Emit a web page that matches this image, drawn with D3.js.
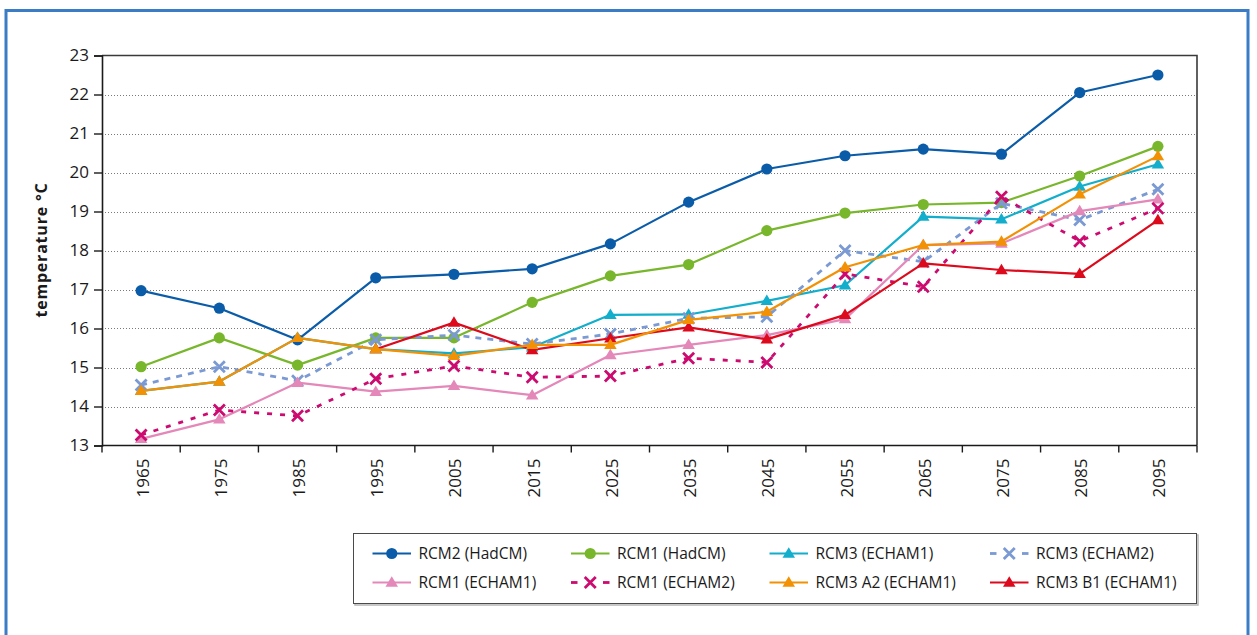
<!DOCTYPE html>
<html>
<head>
<meta charset="utf-8">
<script src="https://cdn.jsdelivr.net/npm/d3@7/dist/d3.min.js"></script>
<style>
  html, body { margin: 0; padding: 0; background: #fff; }
  svg { display: block; }
  text { font-family: "Open Sans", "Noto Sans", sans-serif; fill: #1a1a1a; }
</style>
</head>
<body>
<svg id="chart" width="1257" height="635"></svg>
<script>
// Decades on the x axis
const years = ["1965", "1975", "1985", "1995", "2005", "2015", "2025",
               "2035", "2045", "2055", "2065", "2075", "2085", "2095"];

// y axis ticks (°C)
const yTicks = [13, 14, 15, 16, 17, 18, 19, 20, 21, 22, 23];

// Modelled mean temperature per decade, one array per model run
const rcm2HadCM   = [16.97, 16.52, 15.71, 17.30, 17.39, 17.53, 18.17, 19.24, 20.09, 20.43, 20.60, 20.47, 22.05, 22.50];
const rcm1HadCM   = [15.02, 15.76, 15.06, 15.76, 15.76, 16.67, 17.35, 17.64, 18.51, 18.96, 19.18, 19.23, 19.91, 20.67];
const rcm3Echam1  = [14.40, 14.64, 15.76, 15.47, 15.36, 15.52, 16.35, 16.36, 16.71, 17.11, 18.87, 18.80, 19.64, 20.21];
const rcm3Echam2  = [14.55, 15.02, 14.66, 15.71, 15.83, 15.60, 15.86, 16.26, 16.30, 18.00, 17.71, 19.21, 18.78, 19.57];
const rcm1Echam1  = [13.17, 13.67, 14.61, 14.38, 14.53, 14.29, 15.32, 15.58, 15.83, 16.24, 18.14, 18.18, 19.01, 19.31];
const rcm1Echam2  = [13.27, 13.91, 13.76, 14.71, 15.04, 14.75, 14.78, 15.24, 15.13, 17.40, 17.07, 19.38, 18.24, 19.08];
const rcm3A2Echam1 = [14.40, 14.64, 15.76, 15.47, 15.30, 15.58, 15.58, 16.22, 16.43, 17.57, 18.14, 18.23, 19.44, 20.42];
const rcm3B1Echam1 = [null, null, null, 15.47, 16.15, 15.45, 15.75, 16.03, 15.72, 16.35, 17.67, 17.50, 17.40, 18.78];

// Series definitions (legend order) with their drawing style
const series = [
  { name: "RCM2 (HadCM)",       values: rcm2HadCM,    color: "#0b5ca8", marker: "circle",   dash: null,  width: 2.2, legendCol: 0, legendRow: 0, z: 0 },
  { name: "RCM1 (HadCM)",       values: rcm1HadCM,    color: "#78b62c", marker: "circle",   dash: null,  width: 2.2, legendCol: 1, legendRow: 0, z: 1 },
  { name: "RCM3 (ECHAM1)",      values: rcm3Echam1,   color: "#12aecb", marker: "triangle", dash: null,  width: 2.2, legendCol: 2, legendRow: 0, z: 2 },
  { name: "RCM3 (ECHAM2)",      values: rcm3Echam2,   color: "#7b9ad3", marker: "cross",    dash: "6,6", width: 2.8, legendCol: 3, legendRow: 0, z: 3 },
  { name: "RCM1 (ECHAM1)",      values: rcm1Echam1,   color: "#e487b9", marker: "triangle", dash: null,  width: 2.2, legendCol: 0, legendRow: 1, z: 4 },
  { name: "RCM1 (ECHAM2)",      values: rcm1Echam2,   color: "#cc0a6f", marker: "cross",    dash: "5,8", width: 2.8, legendCol: 1, legendRow: 1, z: 5 },
  { name: "RCM3 A2 (ECHAM1)",   values: rcm3A2Echam1, color: "#f29104", marker: "triangle", dash: null,  width: 2.2, legendCol: 2, legendRow: 1, z: 7 },
  { name: "RCM3 B1 (ECHAM1)",   values: rcm3B1Echam1, color: "#dc0a1c", marker: "triangle", dash: null,  width: 2.2, legendCol: 3, legendRow: 1, z: 6 }
];

const svg = d3.select("#chart");

// Outer blue frame
svg.append("rect")
  .attr("x", 6).attr("y", 10.5)
  .attr("width", 1242).attr("height", 640)
  .attr("fill", "none")
  .attr("stroke", "#3b7cc6")
  .attr("stroke-width", 3);

const plot = { left: 102, top: 55.5, right: 1197, bottom: 445.5 };

const x = d3.scaleBand()
  .domain(years)
  .range([plot.left, plot.right]);

const y = d3.scaleLinear()
  .domain([13, 23])
  .range([plot.bottom, plot.top]);

const cx = d => x(d) + x.bandwidth() / 2;

// Dotted horizontal gridlines
svg.append("g")
  .selectAll("line")
  .data(yTicks.filter(t => t > 13 && t < 23))
  .join("line")
  .attr("x1", plot.left).attr("x2", plot.right)
  .attr("y1", d => Math.round(y(d)) + 0.5).attr("y2", d => Math.round(y(d)) + 0.5)
  .attr("stroke", "#7a7a7a")
  .attr("stroke-width", 1)
  .attr("stroke-dasharray", "1,2");

// Plot area box (top and right edges)
svg.append("path")
  .attr("d", `M${plot.left},${plot.top}H${plot.right}V${plot.bottom}`)
  .attr("fill", "none")
  .attr("stroke", "#3a3a3a")
  .attr("stroke-width", 1.6);

// Y axis
const yAxis = svg.append("g")
  .attr("transform", `translate(${plot.left},0)`)
  .call(d3.axisLeft(y).tickValues(yTicks).tickSize(8).tickPadding(5).tickFormat(d3.format("d")));
yAxis.select(".domain").attr("stroke", "#1a1a1a").attr("stroke-width", 1.6);
yAxis.selectAll(".tick line").attr("stroke", "#1a1a1a").attr("stroke-width", 1.4);
yAxis.selectAll(".tick text").attr("font-size", 17).attr("fill", "#1a1a1a")
  .style("font-family", "'Open Sans', 'Noto Sans', sans-serif");

// X axis: ticks at category boundaries, labels rotated
const xAxis = svg.append("g")
  .attr("transform", `translate(0,${plot.bottom})`);
xAxis.append("line")
  .attr("x1", plot.left).attr("x2", plot.right)
  .attr("y1", 0).attr("y2", 0)
  .attr("stroke", "#1a1a1a").attr("stroke-width", 1.6);
const boundaries = years.map(d => x(d)).concat([plot.right]);
xAxis.selectAll("line.tick")
  .data(boundaries)
  .join("line")
  .attr("class", "tick")
  .attr("x1", d => d).attr("x2", d => d)
  .attr("y1", 0).attr("y2", 7)
  .attr("stroke", "#1a1a1a").attr("stroke-width", 1.4);
xAxis.selectAll("text")
  .data(years)
  .join("text")
  .attr("transform", d => `translate(${cx(d) + 7.5},13) rotate(-90)`)
  .attr("text-anchor", "end")
  .attr("font-size", 17)
  .text(d => d);

// Y axis title
svg.append("text")
  .attr("transform", `translate(${47},${250}) rotate(-90)`)
  .attr("text-anchor", "middle")
  .attr("font-size", 16)
  .attr("font-weight", "bold")
  .attr("letter-spacing", 0.8)
  .text("temperature °C");

// Marker drawing
function drawMarker(sel, s, px, py) {
  if (s.marker === "circle") {
    sel.append("circle").attr("cx", px).attr("cy", py).attr("r", 5.6).attr("fill", s.color);
  } else if (s.marker === "triangle") {
    const h = 10.5, w = 12.5;
    sel.append("path")
      .attr("d", `M${px},${py - h * 0.6}L${px + w / 2},${py + h * 0.4}L${px - w / 2},${py + h * 0.4}Z`)
      .attr("fill", s.color);
  } else if (s.marker === "cross") {
    const r = 5.5;
    sel.append("path")
      .attr("d", `M${px - r},${py - r}L${px + r},${py + r}M${px - r},${py + r}L${px + r},${py - r}`)
      .attr("stroke", s.color).attr("stroke-width", 2.8).attr("fill", "none");
  }
}

// Lines and markers, drawn in z order
const line = d3.line()
  .defined(d => d.v !== null)
  .x(d => cx(d.year))
  .y(d => y(d.v));

const ordered = series.slice().sort((a, b) => a.z - b.z);
ordered.forEach(s => {
  const pts = years.map((yr, i) => ({ year: yr, v: s.values[i] }));
  const g = svg.append("g");
  g.append("path")
    .datum(pts)
    .attr("d", line)
    .attr("fill", "none")
    .attr("stroke", s.color)
    .attr("stroke-width", s.width)
    .attr("stroke-dasharray", s.dash)
    .attr("stroke-linejoin", "round");
  pts.filter(p => p.v !== null).forEach(p => drawMarker(g, s, cx(p.year), y(p.v)));
});

// Legend
const legend = { x: 353.5, y: 533.5, w: 843, h: 70 };
svg.append("rect")
  .attr("x", legend.x + 1.5).attr("y", legend.y + 1.5)
  .attr("width", legend.w).attr("height", legend.h)
  .attr("fill", "none").attr("stroke", "#b5b5b5").attr("stroke-width", 1.5);
svg.append("rect")
  .attr("x", legend.x).attr("y", legend.y)
  .attr("width", legend.w).attr("height", legend.h)
  .attr("fill", "#fff").attr("stroke", "#4a4a4a").attr("stroke-width", 1);

const colX = [372.5, 571, 769.5, 990];
const rowY = [553.5, 582.5];
series.forEach(s => {
  const lx = colX[s.legendCol], ly = rowY[s.legendRow];
  const g = svg.append("g");
  if (s.dash) {
    [[lx, lx + 6.5], [lx + 32, lx + 38.5]].forEach(([a, b]) => {
      g.append("line").attr("x1", a).attr("x2", b).attr("y1", ly).attr("y2", ly)
        .attr("stroke", s.color).attr("stroke-width", s.width);
    });
  } else {
    g.append("line").attr("x1", lx).attr("x2", lx + 38.5).attr("y1", ly).attr("y2", ly)
      .attr("stroke", s.color).attr("stroke-width", s.width);
  }
  drawMarker(g, s, lx + 19.25, ly);
  g.append("text")
    .attr("x", lx + 46).attr("y", ly + 5.5)
    .attr("font-size", 15.5)
    .text(s.name);
});
</script>
</body>
</html>
